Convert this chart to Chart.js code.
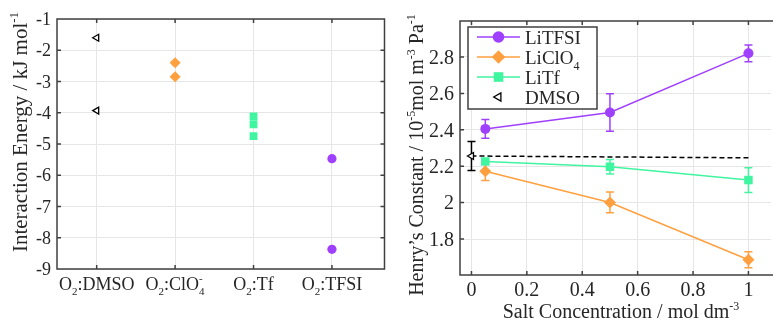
<!DOCTYPE html>
<html>
<head>
<meta charset="utf-8">
<script src="https://cdn.jsdelivr.net/npm/chart.js@4.4.0/dist/chart.umd.min.js"></script>
<style>
  html, body { margin: 0; padding: 0; background: #fff; }
  #wrap { position: relative; width: 777px; height: 321px; overflow: hidden; }
  #left { position: absolute; left: 0; top: 0; }
  #right { position: absolute; left: 390px; top: 0; }
</style>
</head>
<body>
<div id="wrap">
  <canvas id="left" width="390" height="321"></canvas>
  <canvas id="right" width="387" height="321"></canvas>
</div>
<script>
// ---- data, left panel (interaction energies) ----
const pairLabels = ['O_2:DMSO', 'O_2:ClO_4^-', 'O_2:Tf', 'O_2:TFSI']
const pairPos = [1, 2, 3, 4]
const energyDMSO = [-1.6, -3.93]
const energyClO4 = [-2.4, -2.85]
const energyTf = [-4.12, -4.37, -4.75]
const energyTFSI = [-5.47, -8.37]
const energyTicks = [-9, -8, -7, -6, -5, -4, -3, -2, -1]

// ---- data, right panel (Henry's constants) ----
const concentration = [0.05, 0.5, 1]
const henryLiTFSI = [2.405, 2.495, 2.82]
const errLiTFSI = [0.052, 0.103, 0.046]
const henryLiClO4 = [2.172, 2.001, 1.686]
const errLiClO4 = [0.05, 0.057, 0.044]
const henryLiTf = [2.226, 2.197, 2.124]
const errLiTf = [0, 0.04, 0.068]
const dmsoConc = [0]
const henryDMSO = [2.256]
const errDMSO = [0.08]
const dmsoLineX = [0, 1]
const dmsoLineY = [2.256, 2.246]
const concTicks = [0, 0.2, 0.4, 0.6, 0.8, 1]
const henryTicks = [1.8, 2, 2.2, 2.4, 2.6, 2.8]

const PURPLE = '#a040ff'
const ORANGE = '#ffa040'
const GREEN = '#40f5a0'
const SERIF = '"Liberation Serif", serif'
const INK = '#262626'

// pequeno parser tipo TeX: _x ou _{..} subscrito, ^x ou ^{..} sobrescrito
function parseRich(str) {
    let segs = []
    let buf = ''
    let i = 0
    while (i < str.length) {
        let c = str[i]
        if (c === '_' || c === '^') {
            if (buf) { segs.push({ t: buf, k: 'n' }); buf = '' }
            let t
            if (str[i + 1] === '{') {
                let j = str.indexOf('}', i)
                t = str.slice(i + 2, j)
                i = j + 1
            } else {
                t = str[i + 1]
                i += 2
            }
            segs.push({ t: t, k: c === '_' ? 'sub' : 'sup' })
        } else {
            buf += c
            i++
        }
    }
    if (buf) segs.push({ t: buf, k: 'n' })
    return segs
}

function drawRich(ctx, str, x, y, size, align, angle) {
    let segs = parseRich(str)
    let small = Math.round(size * 0.62)
    let placed = []
    let w = 0
    for (let s of segs) {
        ctx.font = (s.k === 'n' ? size : small) + 'px ' + SERIF
        let sw = ctx.measureText(s.t).width
        let prev = placed[placed.length - 1]
        if (s.k === 'sup' && prev && prev.s.k === 'sub') {
            // empilhado em cima do subscrito (igual MATLAB)
            placed.push({ s: s, x: prev.x })
            w = Math.max(w, prev.x + sw)
        } else {
            placed.push({ s: s, x: w })
            w += sw
        }
    }
    let start = align === 'center' ? -w / 2 : (align === 'right' ? -w : 0)
    ctx.save()
    ctx.translate(x, y)
    ctx.rotate(angle || 0)
    ctx.fillStyle = INK
    ctx.textAlign = 'left'
    ctx.textBaseline = 'alphabetic'
    for (let p of placed) {
        let dy = 0
        if (p.s.k === 'sub') dy = size * 0.3
        if (p.s.k === 'sup') dy = -size * 0.42
        ctx.font = (p.s.k === 'n' ? size : small) + 'px ' + SERIF
        ctx.fillText(p.s.t, start + p.x, dy)
    }
    ctx.restore()
}

// moldura + ticks para dentro + numeros dos eixos
const framePlugin = {
    id: 'frame',
    afterDraw(chart, args, opts) {
        let ctx = chart.ctx
        let a = chart.chartArea
        let sx = chart.scales.x
        let sy = chart.scales.y
        ctx.save()
        ctx.strokeStyle = '#404040'
        ctx.lineWidth = 1.5
        ctx.beginPath()
        if (opts.closed) {
            ctx.rect(a.left, a.top, a.right - a.left, a.bottom - a.top)
        } else {
            ctx.moveTo(a.right + 2, a.top)
            ctx.lineTo(a.left, a.top)
            ctx.lineTo(a.left, a.bottom)
            ctx.lineTo(a.right + 2, a.bottom)
        }
        for (let t of sx.ticks) {
            let px = sx.getPixelForValue(t.value)
            ctx.moveTo(px, a.bottom); ctx.lineTo(px, a.bottom - 4)
            ctx.moveTo(px, a.top); ctx.lineTo(px, a.top + 4)
        }
        for (let t of sy.ticks) {
            let py = sy.getPixelForValue(t.value)
            ctx.moveTo(a.left, py); ctx.lineTo(a.left + 4, py)
            if (opts.closed) { ctx.moveTo(a.right, py); ctx.lineTo(a.right - 4, py) }
        }
        ctx.stroke()
        ctx.restore()

        // rotulos numericos
        if (opts.xLabels) {
            for (let t of sx.ticks) {
                drawRich(ctx, String(t.value), sx.getPixelForValue(t.value), a.bottom + 21, opts.size, 'center', 0)
            }
        }
        for (let t of sy.ticks) {
            drawRich(ctx, String(t.value), a.left - 6, sy.getPixelForValue(t.value) + opts.size * 0.34, opts.size, 'right', 0)
        }
    }
}

// barras de erro, desenhadas antes dos marcadores
const errorBarPlugin = {
    id: 'errorBars',
    beforeDatasetsDraw(chart) {
        let ctx = chart.ctx
        let sy = chart.scales.y
        ctx.save()
        ctx.lineWidth = 1.5
        chart.data.datasets.forEach(function (ds, i) {
            if (!ds.errors) return
            let meta = chart.getDatasetMeta(i)
            ctx.strokeStyle = ds.borderColor
            ds.data.forEach(function (pt, j) {
                let e = ds.errors[j]
                if (!e) return
                let px = meta.data[j].x
                let top = sy.getPixelForValue(pt.y + e)
                let bot = sy.getPixelForValue(pt.y - e)
                ctx.beginPath()
                ctx.moveTo(px, top); ctx.lineTo(px, bot)
                ctx.moveTo(px - 4, top); ctx.lineTo(px + 4, top)
                ctx.moveTo(px - 4, bot); ctx.lineTo(px + 4, bot)
                ctx.stroke()
            })
        })
        ctx.restore()
    }
}

function pontos(xs, ys) {
    return ys.map(function (v, i) { return { x: xs[i], y: v } })
}

function repetir(x, ys) {
    return ys.map(function (v) { return { x: x, y: v } })
}

function ticksFixos(lista) {
    return function (scale) {
        scale.ticks = lista.map(function (v) { return { value: v } })
    }
}

// ================= painel esquerdo =================
const leftTexts = {
    id: 'leftTexts',
    afterDraw(chart) {
        let ctx = chart.ctx
        let sx = chart.scales.x
        pairLabels.forEach(function (lab, i) {
            drawRich(ctx, lab, sx.getPixelForValue(pairPos[i]), 290, 18, 'center', 0)
        })
        drawRich(ctx, 'Interaction Energy / kJ mol^{-1}', 27, 132, 21, 'center', -Math.PI / 2)
    }
}

new Chart(document.getElementById('left'), {
    type: 'scatter',
    data: {
        datasets: [
            {
                data: repetir(pairPos[0], energyDMSO),
                pointStyle: 'triangle', rotation: -90, radius: 4,
                borderColor: '#000', backgroundColor: '#fff', borderWidth: 1.3
            },
            {
                data: repetir(pairPos[1], energyClO4),
                pointStyle: 'rectRot', radius: 5.5,
                borderColor: ORANGE, backgroundColor: ORANGE, borderWidth: 0
            },
            {
                data: repetir(pairPos[2], energyTf),
                pointStyle: 'rect', radius: 5.5,
                borderColor: GREEN, backgroundColor: GREEN, borderWidth: 0
            },
            {
                data: repetir(pairPos[3], energyTFSI),
                pointStyle: 'circle', radius: 4.6,
                borderColor: PURPLE, backgroundColor: PURPLE, borderWidth: 0
            }
        ]
    },
    options: {
        responsive: false,
        animation: false,
        layout: { padding: { top: 19, right: 3, bottom: 0, left: 0 } },
        plugins: {
            legend: { display: false },
            tooltip: { enabled: false },
            frame: { closed: true, xLabels: false, size: 18 }
        },
        scales: {
            x: {
                type: 'linear', min: 0.494, max: 4.67,
                afterBuildTicks: ticksFixos(pairPos),
                afterFit: function (s) { s.height = 52 },
                grid: { color: '#e6e6e6', drawTicks: false },
                border: { display: false },
                ticks: { display: false }
            },
            y: {
                min: -9, max: -1,
                afterBuildTicks: ticksFixos(energyTicks),
                afterFit: function (s) { s.width = 57 },
                grid: { color: '#e6e6e6', drawTicks: false },
                border: { display: false },
                ticks: { display: false }
            }
        }
    },
    plugins: [framePlugin, leftTexts]
})

// ================= painel direito =================
const rightTexts = {
    id: 'rightTexts',
    afterDraw(chart) {
        let ctx = chart.ctx
        drawRich(ctx, 'Henry’s Constant / 10^{-5}mol m^{-3} Pa^{-1}', 33, 155, 20, 'center', -Math.PI / 2)
        drawRich(ctx, 'Salt Concentration / mol dm^{-3}', 231, 318, 20, 'center', 0)

        // legenda
        let bx = 78, by = 27, bw = 129, bh = 82
        ctx.save()
        ctx.fillStyle = '#fff'
        ctx.fillRect(bx, by, bw, bh)
        ctx.strokeStyle = '#404040'
        ctx.lineWidth = 1.5
        ctx.strokeRect(bx, by, bw, bh)
        let rows = [37, 57, 77, 97]
        let entradas = chart.data.datasets.filter(function (d) { return d.legendName })
        entradas.forEach(function (ds, i) {
            let y = rows[i]
            if (ds.showLine) {
                ctx.strokeStyle = ds.borderColor
                ctx.lineWidth = 1.5
                ctx.beginPath()
                ctx.moveTo(87, y); ctx.lineTo(130, y)
                ctx.stroke()
            }
            ctx.fillStyle = ds.backgroundColor
            ctx.strokeStyle = ds.borderColor
            ctx.lineWidth = ds.pointBorderWidth || 0
            Chart.helpers.drawPoint(ctx, {
                pointStyle: ds.pointStyle,
                radius: ds.pointRadius + 0.8,
                rotation: ds.pointRotation || 0,
                borderWidth: ds.pointBorderWidth || 0
            }, 108.5, y)
            drawRich(ctx, ds.legendName, 135, y + 7, 19, 'left', 0)
        })
        ctx.restore()
    }
}

new Chart(document.getElementById('right'), {
    type: 'scatter',
    data: {
        datasets: [
            {
                legendName: 'LiTFSI',
                data: pontos(concentration, henryLiTFSI), errors: errLiTFSI,
                showLine: true, borderColor: PURPLE, backgroundColor: PURPLE, borderWidth: 1.5,
                pointStyle: 'circle', pointRadius: 5, pointBorderWidth: 0
            },
            {
                legendName: 'LiClO_4',
                data: pontos(concentration, henryLiClO4), errors: errLiClO4,
                showLine: true, borderColor: ORANGE, backgroundColor: ORANGE, borderWidth: 1.5,
                pointStyle: 'rectRot', pointRadius: 6, pointBorderWidth: 0
            },
            {
                legendName: 'LiTf',
                data: pontos(concentration, henryLiTf), errors: errLiTf,
                showLine: true, borderColor: GREEN, backgroundColor: GREEN, borderWidth: 1.5,
                pointStyle: 'rect', pointRadius: 6, pointBorderWidth: 0
            },
            {
                legendName: 'DMSO',
                data: pontos(dmsoConc, henryDMSO), errors: errDMSO,
                showLine: false, borderColor: '#000', backgroundColor: '#fff',
                pointStyle: 'triangle', pointRotation: -90, pointRadius: 4, pointBorderWidth: 1.3
            },
            {
                data: pontos(dmsoLineX, dmsoLineY),
                showLine: true, borderColor: '#000', borderWidth: 1.5, borderDash: [5, 3],
                pointRadius: 0
            }
        ]
    },
    options: {
        responsive: false,
        animation: false,
        layout: { padding: { top: 21, right: 0, bottom: 0, left: 0 } },
        plugins: {
            legend: { display: false },
            tooltip: { enabled: false },
            frame: { closed: false, xLabels: true, size: 20 }
        },
        scales: {
            x: {
                type: 'linear', min: -0.0414, max: 1.0815,
                afterBuildTicks: ticksFixos(concTicks),
                afterFit: function (s) { s.height = 46 },
                grid: { color: '#e6e6e6', drawTicks: false },
                border: { display: false },
                ticks: { display: false }
            },
            y: {
                min: 1.6025, max: 2.9975,
                afterBuildTicks: ticksFixos(henryTicks),
                afterFit: function (s) { s.width = 70 },
                grid: { color: '#e6e6e6', drawTicks: false },
                border: { display: false },
                ticks: { display: false }
            }
        }
    },
    plugins: [errorBarPlugin, framePlugin, rightTexts]
})
</script>
</body>
</html>
